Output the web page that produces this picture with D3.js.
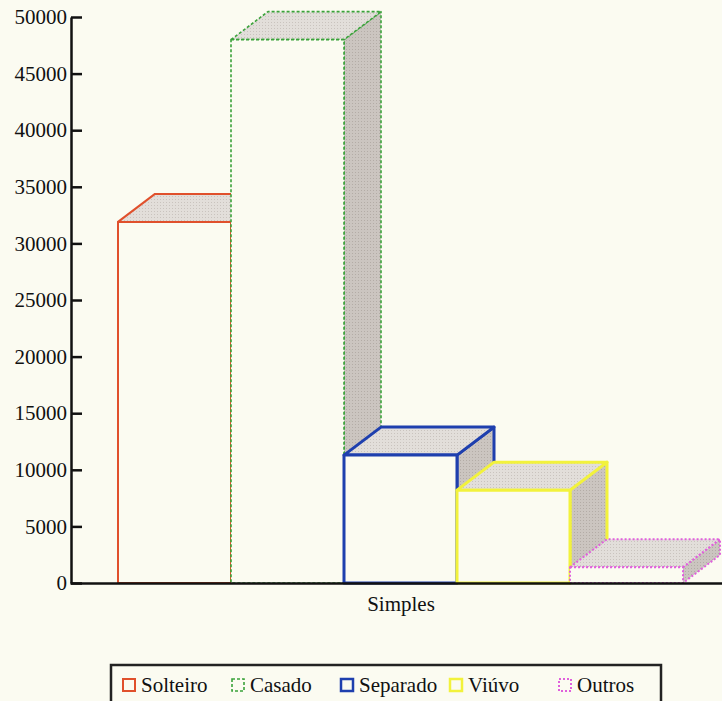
<!DOCTYPE html>
<html><head><meta charset="utf-8">
<script src="https://cdn.jsdelivr.net/npm/d3@7"></script>
<style>html,body{margin:0;padding:0;background:#fbfbf1;}svg{display:block;}</style>
</head><body>
<svg id="c" width="722" height="701"></svg>
<script>
const groups = ["Simples"];
const categories = ["Solteiro", "Casado", "Separado", "Viúvo", "Outros"];
const values = [31900, 48000, 11300, 8200, 1400];
const yTicks = [0, 5000, 10000, 15000, 20000, 25000, 30000, 35000, 40000, 45000, 50000];
const colors = ["#e0502c", "#3aa23a", "#1e3fae", "#f2f23c", "#e060dc"];
const widths = [2, 1.6, 3, 3, 2];
const dashes = [null, "3,2", null, null, "2,2"];

const svg = d3.select("#c");
const bg = "#fbfbf1";
svg.append("rect").attr("width",722).attr("height",701).attr("fill",bg);

const y = d3.scaleLinear().domain([0, 50000]).range([583, 17]);
const xg = d3.scaleBand().domain(groups).range([70, 732]);
const x = d3.scaleBand().domain(categories).range([118, 683]);
const dx = 37, dy = -28;

const defs = svg.append("defs");
function pat(id, base, dot){
  const p = defs.append("pattern").attr("id",id).attr("width",3).attr("height",3).attr("patternUnits","userSpaceOnUse");
  p.append("rect").attr("width",3).attr("height",3).attr("fill",base);
  p.append("rect").attr("x",1).attr("y",1).attr("width",1).attr("height",1).attr("fill",dot);
}
pat("ptop", "#e2deda", "#c9c3be");
pat("pside", "#cbc5c0", "#b3aca6");

const bars = svg.append("g");
categories.forEach((c, i) => {
  const x0 = x(c), x1 = x(c) + x.bandwidth();
  const yt = y(values[i]), yb = y(0);
  const g = bars.append("g");
  const st = s => s.attr("stroke", colors[i]).attr("stroke-width", widths[i])
    .attr("stroke-dasharray", dashes[i]).attr("stroke-linejoin","round");
  st(g.append("path").attr("d", `M${x1},${yt}L${x1+dx},${yt+dy}L${x1+dx},${yb+dy}L${x1},${yb}Z`).attr("fill","url(#pside)"));
  st(g.append("path").attr("d", `M${x0},${yt}L${x0+dx},${yt+dy}L${x1+dx},${yt+dy}L${x1},${yt}Z`).attr("fill","url(#ptop)"));
  st(g.append("rect").attr("x", x0).attr("y", yt).attr("width", x1-x0).attr("height", yb-yt).attr("fill", bg));
});

const font = "Liberation Serif, Times New Roman, serif";
const ya = svg.append("g").attr("transform","translate(71,0)")
  .call(d3.axisRight(y).tickValues(yTicks).tickSize(11).tickSizeOuter(0).tickFormat(d3.format("d")));
ya.select(".domain").attr("stroke","#111").attr("stroke-width",2.5);
ya.selectAll(".tick line").attr("stroke","#111").attr("stroke-width",2.5);
ya.selectAll(".tick text").attr("x",-4).attr("text-anchor","end")
  .attr("font-family",font).attr("font-size",21).attr("fill","#111");

const xa = svg.append("g").attr("transform","translate(0,583)")
  .call(d3.axisBottom(xg).tickSize(0).tickSizeOuter(0));
xa.select(".domain").attr("stroke","#111").attr("stroke-width",2.5);
xa.selectAll(".tick text").attr("y",13).attr("dy","0.71em").attr("font-family",font)
  .attr("font-size",21).attr("fill","#111");

const lg = svg.append("g");
lg.append("rect").attr("x",111).attr("y",665).attr("width",550).attr("height",60)
  .attr("fill",bg).attr("stroke","#222").attr("stroke-width",2.5);
categories.forEach((c, i) => {
  const lx = 123 + i*109;
  lg.append("rect").attr("x",lx).attr("y",679).attr("width",12).attr("height",12)
    .attr("fill", bg).attr("stroke",colors[i]).attr("stroke-width", Math.min(widths[i],2.5))
    .attr("stroke-dasharray", dashes[i]);
  lg.append("text").attr("x",lx+18).attr("y",692).text(c)
    .attr("font-family",font).attr("font-size",21).attr("fill","#111");
});
</script>
</body></html>
